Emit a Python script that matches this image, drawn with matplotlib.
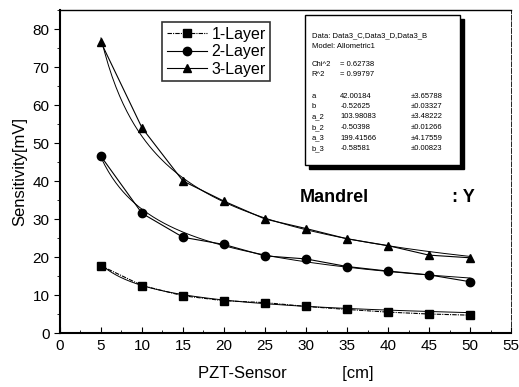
import matplotlib.pyplot as plt
import numpy as np
from matplotlib.patches import Rectangle

plt.rcParams["font.family"] = ["Liberation Sans", "DejaVu Sans"]

# 測定データ
distance = [5, 10, 15, 20, 25, 30, 35, 40, 45, 50]
layer1 = [17.7, 12.5, 9.8, 8.5, 8.0, 7.0, 6.2, 5.5, 5.0, 4.7]
layer2 = [46.5, 31.5, 25.2, 23.3, 20.3, 19.5, 17.5, 16.3, 15.3, 13.5]
layer3 = [76.5, 54.0, 40.0, 34.7, 30.0, 27.5, 24.8, 23.0, 20.5, 19.8]

# Allometric1 フィット結果 y = a * x^b
fit_a = [42.00184, 103.98083, 199.41566]
fit_b = [-0.52625, -0.50398, -0.58581]

fit_lines = [
    "Data: Data3_C,Data3_D,Data3_B",
    "Model: Allometric1",
]

fig = plt.figure(figsize=(5.19, 3.87), dpi=100)
ax = fig.add_axes([0.1156, 0.1395, 0.8690, 0.8345])

series = [(layer1, "s", "1-Layer", (0, (4, 1, 1, 1))),
          (layer2, "o", "2-Layer", "-"),
          (layer3, "^", "3-Layer", "-")]
for vals, mk, lab, ls in series:
    ax.plot(distance, vals, color="black", lw=0.8, ls=ls, marker=mk,
            ms=6, label=lab)

xf = np.linspace(5, 50, 200)
for a, b in zip(fit_a, fit_b):
    ax.plot(xf, a * xf ** b, color="black", lw=0.7)

ax.set_xlim(0, 55)
ax.set_ylim(0, 85)
ax.set_xticks(np.arange(0, 56, 5))
ax.set_yticks(np.arange(0, 81, 10))
ax.set_xticks(np.arange(0, 56, 2.5), minor=True)
ax.set_yticks(np.arange(0, 86, 5), minor=True)
ax.tick_params(axis="x", direction="in", length=4, labelsize=11, pad=4)
ax.tick_params(axis="x", which="minor", direction="in", length=2)
ax.tick_params(axis="y", direction="out", length=4, labelsize=11)
ax.tick_params(axis="y", which="minor", direction="out", length=2)
for s in ax.spines.values():
    s.set_linewidth(1.0)
ax.spines["left"].set_linewidth(1.5)
ax.spines["bottom"].set_linewidth(1.5)
ax.spines["right"].set_linestyle((0, (6, 2)))
ax.spines["right"].set_linewidth(0.6)

ax.set_ylabel("Sensitivity[mV]", fontsize=12)
ax.set_xlabel("PZT-Sensor            [cm]", fontsize=12, labelpad=10)

leg = ax.legend(loc="upper left", bbox_to_anchor=(0.226, 0.963), fontsize=11.5,
                frameon=True, fancybox=False, edgecolor="black",
                handlelength=2.5, borderpad=0.3, labelspacing=0.15,
                handletextpad=0.3, borderaxespad=0)
leg.get_frame().set_linewidth(1.2)

# フィット結果の表示ボックス（影付き）
bx, by, bw, bh = 305 / 519, 1 - 165 / 387, 155 / 519, 150 / 387
fig.patches.append(Rectangle((bx + 0.008, by - 0.01), bw, bh,
                             transform=fig.transFigure, color="black", zorder=5))
fig.patches.append(Rectangle((bx, by), bw, bh, transform=fig.transFigure,
                             facecolor="white", edgecolor="black", lw=1.0,
                             zorder=6))

tx = bx + 0.013
fs = 5.5
fig.text(tx, 1 - 36 / 387, fit_lines[0], fontsize=fs, zorder=7, va="center")
fig.text(tx, 1 - 47 / 387, fit_lines[1], fontsize=fs, zorder=7, va="center")
fig.text(tx, 1 - 65 / 387, "Chi^2", fontsize=fs, zorder=7, va="center")
fig.text(tx + 0.055, 1 - 65 / 387, "= 0.62738", fontsize=fs, zorder=7, va="center")
fig.text(tx, 1 - 75 / 387, "R^2", fontsize=fs, zorder=7, va="center")
fig.text(tx + 0.055, 1 - 75 / 387, "= 0.99797", fontsize=fs, zorder=7, va="center")

par_names = ["a", "b", "a_2", "b_2", "a_3", "b_3"]
par_vals = ["42.00184", "-0.52625", "103.98083", "-0.50398", "199.41566", "-0.58581"]
par_errs = ["\u00b13.65788", "\u00b10.03327", "\u00b13.48222", "\u00b10.01266",
            "\u00b14.17559", "\u00b10.00823"]
for i, (n, v, e) in enumerate(zip(par_names, par_vals, par_errs)):
    yy = 1 - (96 + i * 10.5) / 387
    fig.text(tx, yy, n, fontsize=fs, zorder=7, va="center")
    fig.text(tx + 0.055, yy, v, fontsize=fs, zorder=7, va="center")
    fig.text(tx + 0.19, yy, e, fontsize=fs, zorder=7, va="center")

ax.text(300 / 519, 1 - 197 / 387, "Mandrel", transform=fig.transFigure,
        fontsize=13, fontweight="bold", va="center")
ax.text(452 / 519, 1 - 197 / 387, ": Y", transform=fig.transFigure,
        fontsize=13, fontweight="bold", va="center")

fig.savefig("out.png", dpi=100)
